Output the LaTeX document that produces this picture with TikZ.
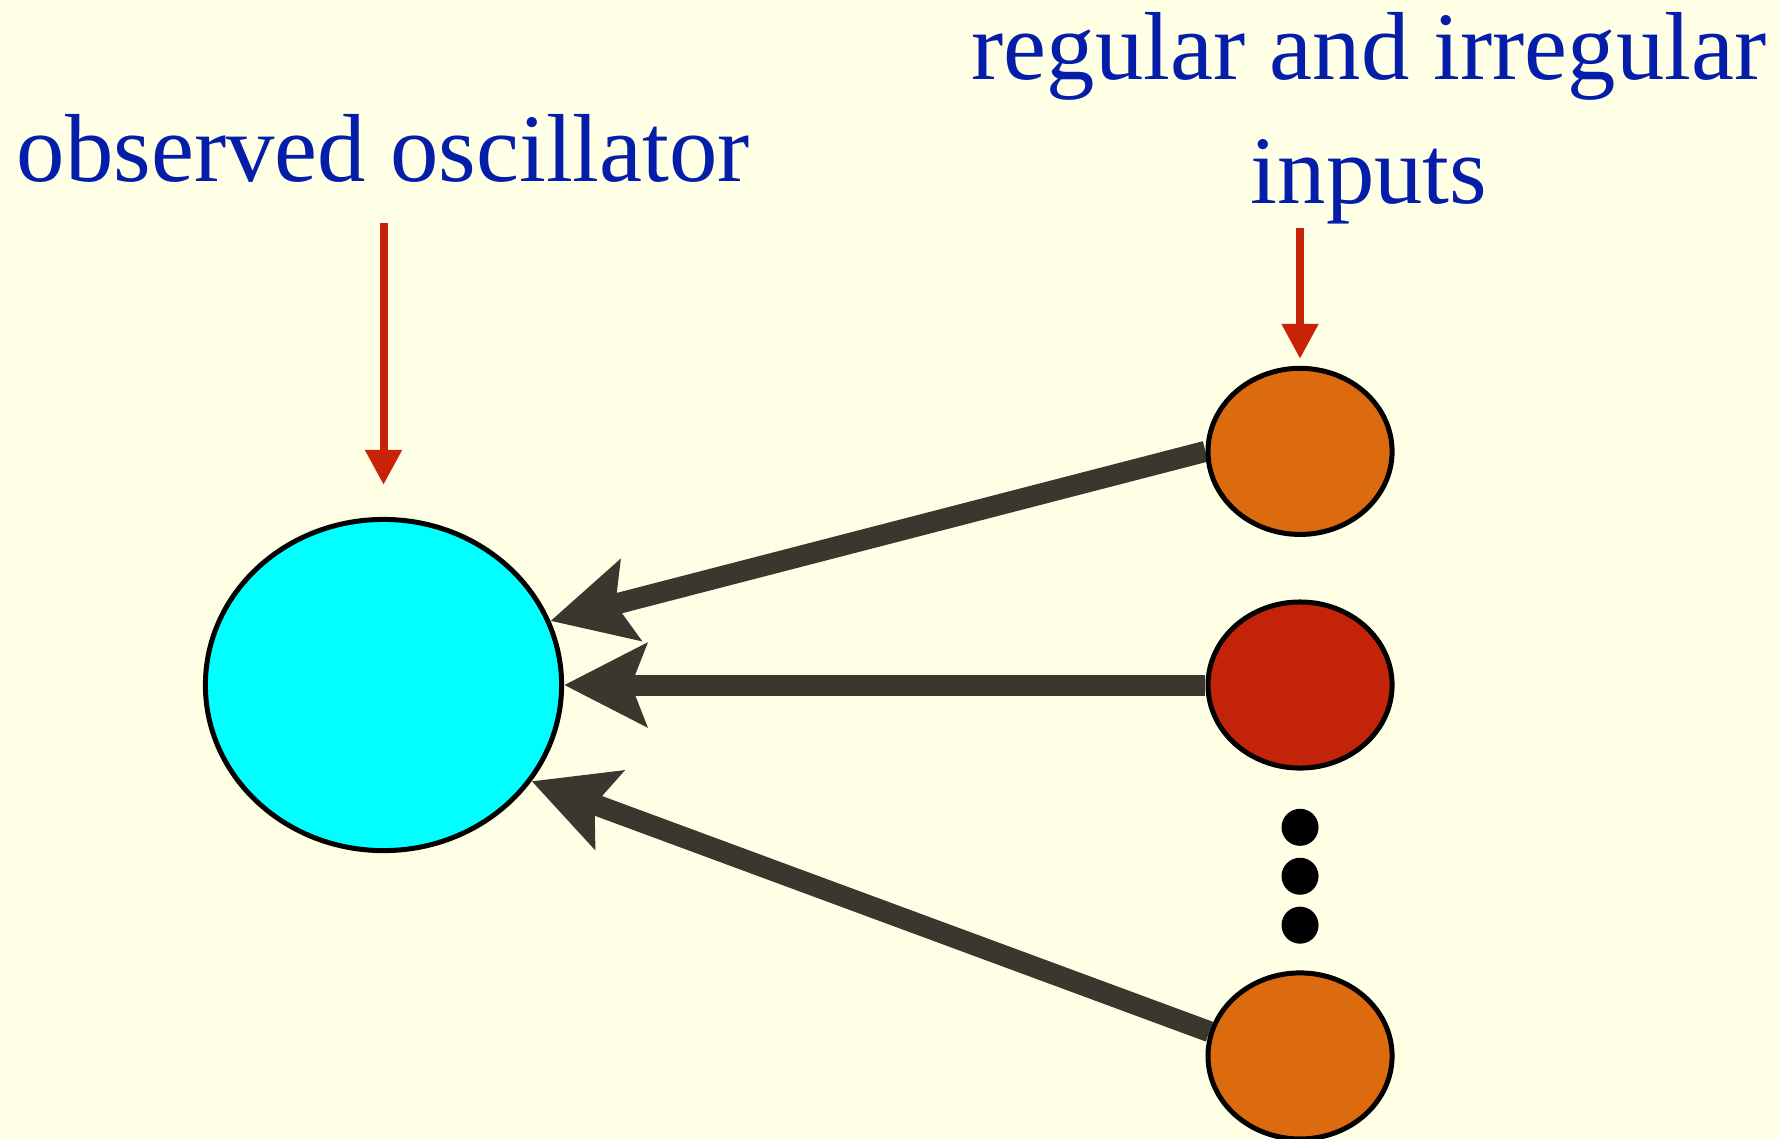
\documentclass[tikz,border=0pt]{standalone}
\usepackage{fontspec}
\setmainfont{Liberation Serif}
\usetikzlibrary{shapes.geometric, arrows.meta, positioning, backgrounds}
\definecolor{mycream}{RGB}{255,255,230}
\definecolor{myblue}{RGB}{5,30,170}
\definecolor{myred}{RGB}{200,35,8}
\definecolor{mydark}{RGB}{58,56,46}
\definecolor{mycyan}{RGB}{0,255,255}
\definecolor{myorange}{RGB}{220,107,16}
\definecolor{myrust}{RGB}{195,35,8}
\tikzset{
  oscnode/.style={ellipse, draw=black, fill=mycyan, line width=0.05cm,
    minimum width=3.56cm, minimum height=3.31cm, inner sep=0pt},
  innode/.style={ellipse, draw=black, fill=myorange, line width=0.05cm,
    minimum width=1.84cm, minimum height=1.66cm, inner sep=0pt},
  dotnode/.style={circle, fill=black, minimum size=0.37cm, inner sep=0pt},
  txtlabel/.style={text=myblue, inner sep=0pt, align=center,
    font=\fontsize{27.5}{35.3}\selectfont},
  arrow/.style={-{Stealth[length=0.82cm, width=0.82cm, inset=0.15cm]},
    line width=0.21cm, color=mydark},
  redarrow/.style={-{Triangle[length=0.35cm, width=0.35cm]},
    line width=0.08cm, color=myred}
}

\begin{document}
\begin{tikzpicture}[x=0.01cm, y=-0.01cm]
  \useasboundingbox (0,0) rectangle (1779,1138);

  \node[oscnode] (osc) at (383.5,685) {};
  \node[innode, fill=myrust, right=6.41cm of osc] (in2) {};
  \node[innode, above=0.625cm of in2] (in1) {};
  \node[dotnode, below=0.375cm of in2] (dot1) {};
  \node[dotnode, below=0.105cm of dot1] (dot2) {};
  \node[dotnode, below=0.105cm of dot2] (dot3) {};
  \node[innode, below=0.26cm of dot3] (in3) {};

  \node[txtlabel, anchor=base] (lblosc) at (383.5,181.7) {observed oscillator};
  \node[txtlabel, anchor=south] (lblin) at (1369,225) {regular and irregular\\inputs};

  \draw[redarrow, shorten <=0.4cm, shorten >=0.32cm] (lblosc.south) -- (osc.north);
  \draw[redarrow, shorten <=0.03cm, shorten >=0.07cm] (lblin.south -| in1.north) -- (in1.north);

  \begin{scope}[on background layer]
    \fill[mycream] (0,0) rectangle (1779,1138);
    \draw[arrow] (in1.west) -- (osc.21);
    \draw[arrow] (in2.west) -- (osc.east);
    \draw[arrow] (in3.165) -- (osc.-33);
  \end{scope}
\end{tikzpicture}
\end{document}
